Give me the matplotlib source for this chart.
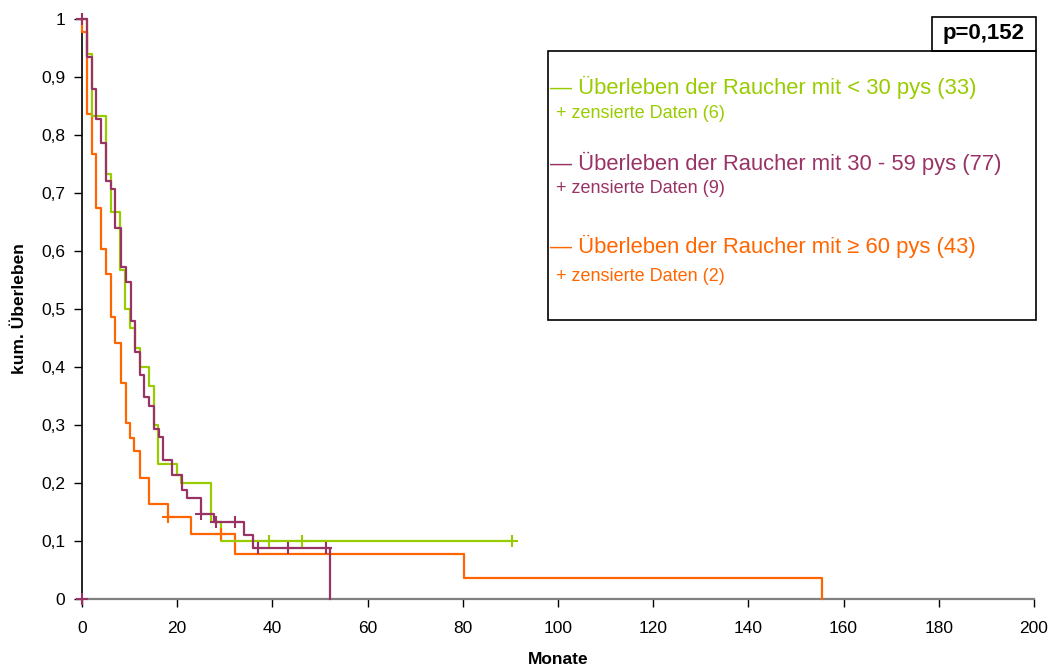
import matplotlib
matplotlib.use('Agg')
import matplotlib.pyplot as plt
from matplotlib.patches import Rectangle
from matplotlib.ticker import FuncFormatter, MultipleLocator

plt.rcParams['font.family'] = ['Liberation Sans', 'DejaVu Sans']

# Kaplan-Meier step data (time in months, survival)
green_t = [0, 1, 2, 5, 6, 8, 9, 10.1, 11.1, 12.2, 14.1, 15.1, 16, 20, 20.9, 27.2, 29.1, 90.4]
green_s = [1, 0.939, 0.833, 0.733, 0.667, 0.567, 0.5, 0.467, 0.433, 0.4, 0.367, 0.3, 0.233, 0.213, 0.2, 0.133, 0.1, 0.1]
green_cens_t = [39.3, 46.3, 90.4]
green_cens_s = [0.1, 0.1, 0.1]

purple_t = [0, 1, 2, 2.9, 3.9, 5, 6, 6.9, 8.1, 9.2, 10.2, 11.1, 12.2, 13.1, 14.1, 15.1, 16.1,
            17, 19, 21, 22, 25.1, 27.8, 34, 36, 52.1]
purple_s = [1, 0.935, 0.879, 0.827, 0.786, 0.72, 0.707, 0.639, 0.573, 0.547, 0.48, 0.426, 0.386,
            0.348, 0.333, 0.293, 0.28, 0.24, 0.214, 0.188, 0.174, 0.147, 0.133, 0.11, 0.088, 0]
purple_cens_t = [0, 0, 25.1, 28.1, 32.1, 37, 43.2, 51.2]
purple_cens_s = [0, 1, 0.147, 0.133, 0.133, 0.088, 0.088, 0.088]

orange_t = [0, 0.1, 1, 2, 2.9, 3.9, 5, 6, 6.9, 8.1, 9.2, 10.1, 11, 12.2, 14.1, 18.1, 23, 32.1, 80.3, 155.4]
orange_s = [1, 0.977, 0.837, 0.768, 0.675, 0.603, 0.56, 0.487, 0.441, 0.372, 0.304, 0.278, 0.256,
            0.209, 0.163, 0.141, 0.112, 0.077, 0.037, 0]
orange_cens_t = [18.1, 29.1]
orange_cens_s = [0.141, 0.112]

GREEN = '#99CC00'
PURPLE = '#993366'
ORANGE = '#FF6600'

W, H = 1058, 669
fig = plt.figure(figsize=(W / 100, H / 100), dpi=100)
ax = fig.add_axes([82 / W, 1 - 599 / H, (1034 - 82) / W, 580 / H])

for t, s, c in [(orange_t, orange_s, ORANGE), (green_t, green_s, GREEN), (purple_t, purple_s, PURPLE)]:
    ax.step(t, s, where='post', color=c, lw=1.6, clip_on=False, zorder=3)

for t, s, c in [(orange_cens_t, orange_cens_s, ORANGE), (green_cens_t, green_cens_s, GREEN),
                (purple_cens_t, purple_cens_s, PURPLE)]:
    ax.plot(t, s, ls='none', marker='+', ms=9, mew=1.5, color=c, clip_on=False, zorder=4)

ax.set_xlim(0, 200)
ax.set_ylim(0, 1)
ax.xaxis.set_major_locator(MultipleLocator(20))
ax.yaxis.set_major_locator(MultipleLocator(0.1))
ax.yaxis.set_major_formatter(FuncFormatter(
    lambda v, p: '0' if abs(v) < 1e-9 else ('1' if abs(v - 1) < 1e-9 else f'{v:.1f}'.replace('.', ','))))

for side in ['top', 'right']:
    ax.spines[side].set_visible(False)
ax.spines['left'].set_color('black')
ax.spines['left'].set_linewidth(1.2)
ax.spines['bottom'].set_color('#808080')
ax.spines['bottom'].set_linewidth(1.6)
ax.tick_params(axis='both', direction='out', length=6, width=1, color='black', labelsize=12.5)
ax.tick_params(axis='x', pad=10)
ax.tick_params(axis='y', pad=6)

ax.set_xlabel('Monate', fontsize=12.5, fontweight='bold', labelpad=11)
ax.set_ylabel('kum. Überleben', fontsize=12.5, fontweight='bold', labelpad=10)

# legend box and p-value box, drawn in figure pixels
def fx(x):
    return x / W

def fy(y):
    return 1 - y / H

fig.patches.append(Rectangle((fx(548), fy(320)), fx(1036) - fx(548), fy(51) - fy(320),
                             transform=fig.transFigure, fill=False, ec='black', lw=1.2))
fig.patches.append(Rectangle((fx(932), fy(51)), fx(1036) - fx(932), fy(17) - fy(51),
                             transform=fig.transFigure, fill=False, ec='black', lw=1.2))
fig.text(fx(984), fy(34), 'p=0,152', fontsize=16, fontweight='bold', ha='center', va='center')

entries = [
    ('Überleben der Raucher mit < 30 pys (33)', 'zensierte Daten (6)', GREEN, 87, 113),
    ('Überleben der Raucher mit 30 - 59 pys (77)', 'zensierte Daten (9)', PURPLE, 163, 189),
    ('Überleben der Raucher mit ≥ 60 pys (43)', 'zensierte Daten (2)', ORANGE, 246, 276),
]
for main, sub, c, y1, y2 in entries:
    fig.text(fx(550), fy(y1), '— ' + main, fontsize=15.8, color=c, ha='left', va='center')
    fig.text(fx(556), fy(y2), '+ ' + sub, fontsize=13, color=c, ha='left', va='center')

fig.savefig('out.png', dpi=100)
